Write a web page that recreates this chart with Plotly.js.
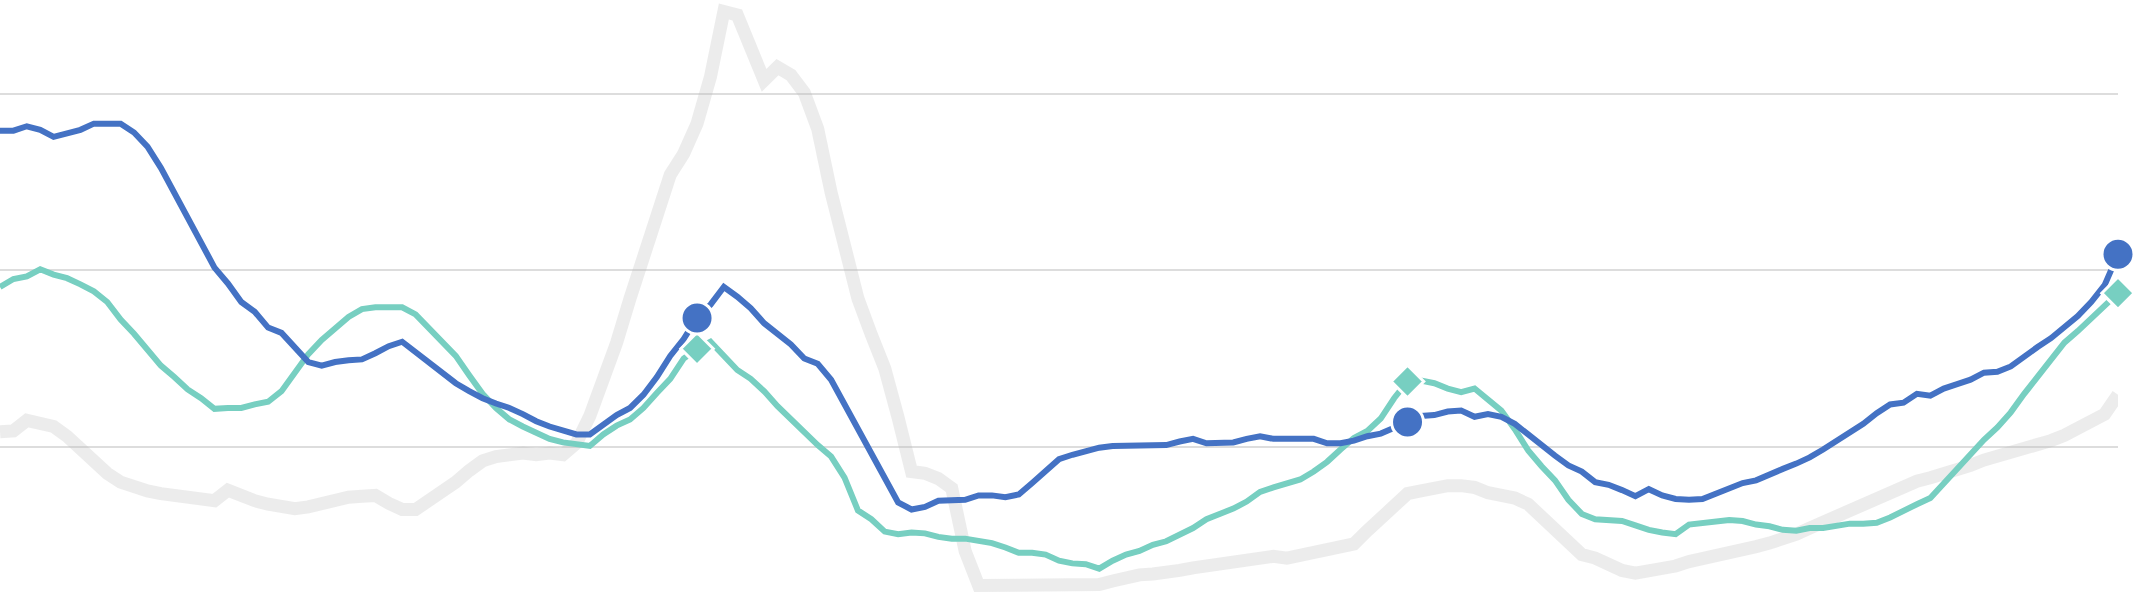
<!DOCTYPE html>
<html>
<head>
<meta charset="utf-8">
<script src="https://cdn.plot.ly/plotly-3.0.1.min.js"></script>
<style>
  html, body { margin: 0; padding: 0; background: #ffffff; }
  #chart { width: 2139px; height: 604px; }
</style>
</head>
<body>
<div id="chart"></div>
<script>
// Series values, one per period (159 periods)
const blueSeries = [
  5.58, 5.58, 5.63, 5.59, 5.51, 5.55, 5.59, 5.66, 5.66, 5.66, 5.56, 5.40, 5.16, 4.88, 4.60, 4.32, 4.03, 3.85, 3.64, 3.53, 3.35,
  3.29, 3.13, 2.96, 2.92, 2.96, 2.98, 2.99, 3.06, 3.14, 3.19, 3.07, 2.94, 2.82, 2.72, 2.63, 2.55, 2.49, 2.44, 2.37, 2.29,
  2.23, 2.18, 2.14, 2.14, 2.25, 2.36, 2.44, 2.59, 2.79, 3.03, 3.22, 3.46, 3.61, 3.81, 3.70, 3.57, 3.40, 3.29, 3.16, 3.00,
  2.94, 2.76, 2.48, 2.20, 1.93, 1.65, 1.37, 1.29, 1.32, 1.39, 1.40, 1.40, 1.45, 1.45, 1.43, 1.46, 1.59, 1.72, 1.86, 1.91,
  1.95, 1.99, 2.01, 2.01, 2.01, 2.01, 2.02, 2.06, 2.09, 2.04, 2.04, 2.05, 2.09, 2.12, 2.09, 2.09, 2.09, 2.09, 2.04, 2.04,
  2.07, 2.12, 2.15, 2.21, 2.28, 2.35, 2.36, 2.40, 2.41, 2.34, 2.37, 2.34, 2.26, 2.14, 2.01, 1.90, 1.79, 1.72, 1.60, 1.57,
  1.51, 1.44, 1.52, 1.45, 1.41, 1.40, 1.41, 1.47, 1.54, 1.59, 1.62, 1.69, 1.75, 1.81, 1.88, 1.97, 2.07, 2.15, 2.26, 2.38,
  2.48, 2.50, 2.60, 2.58, 2.66, 2.71, 2.76, 2.84, 2.85, 2.91, 3.03, 3.13, 3.23, 3.35, 3.48, 3.64, 3.83, 4.18
];

const tealSeries = [
  3.81, 3.90, 3.93, 4.01, 3.95, 3.91, 3.84, 3.76, 3.64, 3.44, 3.28, 3.09, 2.92, 2.79, 2.65, 2.55, 2.43, 2.44, 2.44, 2.48, 2.51,
  2.63, 2.85, 3.05, 3.21, 3.34, 3.47, 3.56, 3.58, 3.58, 3.58, 3.50, 3.35, 3.20, 3.03, 2.81, 2.60, 2.44, 2.31, 2.23, 2.16,
  2.09, 2.05, 2.03, 2.01, 2.14, 2.24, 2.31, 2.44, 2.61, 2.77, 3.00, 3.11, 3.19, 3.03, 2.87, 2.77, 2.63, 2.46, 2.31, 2.15,
  2.02, 1.89, 1.65, 1.28, 1.18, 1.04, 1.01, 1.03, 1.02, 0.98, 0.96, 0.96, 0.94, 0.91, 0.86, 0.80, 0.80, 0.78, 0.71, 0.68,
  0.67, 0.62, 0.71, 0.78, 0.82, 0.89, 0.93, 1.00, 1.08, 1.18, 1.24, 1.30, 1.38, 1.49, 1.54, 1.59, 1.63, 1.72, 1.83, 1.97,
  2.10, 2.18, 2.32, 2.55, 2.74, 2.75, 2.72, 2.66, 2.62, 2.66, 2.54, 2.41, 2.20, 1.96, 1.78, 1.62, 1.40, 1.24, 1.18, 1.17,
  1.16, 1.11, 1.06, 1.03, 1.01, 1.12, 1.14, 1.16, 1.17, 1.16, 1.12, 1.10, 1.06, 1.05, 1.08, 1.08, 1.10, 1.13, 1.13, 1.14,
  1.20, 1.28, 1.35, 1.42, 1.59, 1.76, 1.91, 2.08, 2.22, 2.39, 2.60, 2.79, 2.98, 3.18, 3.31, 3.46, 3.59, 3.74
];

const graySeries = [
  2.17, 2.18, 2.30, 2.26, 2.23, 2.12, 1.97, 1.83, 1.70, 1.60, 1.54, 1.50, 1.47, 1.45, 1.45, 1.42, 1.39, 1.51, 1.44, 1.39, 1.35,
  1.32, 1.30, 1.32, 1.36, 1.41, 1.43, 1.44, 1.45, 1.36, 1.29, 1.29, 1.38, 1.47, 1.60, 1.73, 1.84, 1.89, 1.91, 1.93, 1.91,
  1.93, 1.91, 2.04, 2.35, 2.74, 3.18, 3.68, 4.16, 4.60, 5.08, 5.32, 5.66, 6.19, 6.93, 6.89, 6.51, 6.15, 6.30, 6.21, 6.01,
  5.60, 4.88, 4.25, 3.68, 3.27, 2.89, 2.33, 1.72, 1.70, 1.64, 1.53, 0.82, 0.43, 0.43, 0.43, 0.43, 0.43, 0.43, 0.43, 0.43,
  0.43, 0.44, 0.48, 0.53, 0.55, 0.56, 0.57, 0.60, 0.63, 0.65, 0.67, 0.70, 0.74, 0.76, 0.76, 0.74, 0.77, 0.80, 0.84, 0.89,
  0.90, 1.05, 1.19, 1.35, 1.47, 1.50, 1.54, 1.56, 1.56, 1.54, 1.48, 1.46, 1.42, 1.35, 1.21, 1.05, 0.90, 0.78, 0.74, 0.66,
  0.60, 0.57, 0.59, 0.61, 0.65, 0.70, 0.73, 0.75, 0.78, 0.82, 0.87, 0.91, 0.95, 1.01, 1.08, 1.15, 1.18, 1.25, 1.32, 1.40,
  1.50, 1.56, 1.61, 1.65, 1.69, 1.75, 1.79, 1.85, 1.89, 1.93, 1.99, 2.03, 2.07, 2.13, 2.21, 2.29, 2.37, 2.59
];

// Periods that carry a highlight marker
const markerPeriods = [52, 105, 158];
// Gridline values
const gridValues = [2, 4, 6];

const periods = blueSeries.map((_, i) => i);

const traces = [
  { x: periods, y: graySeries, type: 'scatter', mode: 'lines',
    line: { color: 'rgba(185,185,185,0.28)', width: 13 }, hoverinfo: 'skip' },
  { x: periods, y: tealSeries, type: 'scatter', mode: 'lines',
    line: { color: '#77CFC1', width: 6 }, hoverinfo: 'skip' },
  { x: periods, y: blueSeries, type: 'scatter', mode: 'lines',
    line: { color: '#4472C4', width: 6 }, hoverinfo: 'skip' },
  { x: markerPeriods, y: markerPeriods.map(i => tealSeries[i]), type: 'scatter', mode: 'markers',
    cliponaxis: false,
    marker: { symbol: 'diamond', size: 25, color: '#77CFC1', line: { color: '#ffffff', width: 3 } },
    hoverinfo: 'skip' },
  { x: markerPeriods, y: markerPeriods.map(i => blueSeries[i]), type: 'scatter', mode: 'markers',
    cliponaxis: false,
    marker: { symbol: 'circle', size: 32, color: '#4472C4', line: { color: '#ffffff', width: 3 } },
    hoverinfo: 'skip' }
];

const layout = {
  width: 2139,
  height: 604,
  margin: { l: 0, r: 21, t: 0, b: 0, pad: 0 },
  paper_bgcolor: '#ffffff',
  plot_bgcolor: '#ffffff',
  showlegend: false,
  xaxis: {
    range: [0, blueSeries.length - 1],
    showgrid: false, zeroline: false, showticklabels: false, ticks: '', showline: false
  },
  yaxis: {
    range: [0.22, 7.06],
    tickvals: gridValues,
    showgrid: true, gridcolor: '#DDDDDD', gridwidth: 2,
    zeroline: false, showticklabels: false, ticks: '', showline: false
  }
};

Plotly.newPlot('chart', traces, layout, { staticPlot: true, displayModeBar: false });
</script>
</body>
</html>
